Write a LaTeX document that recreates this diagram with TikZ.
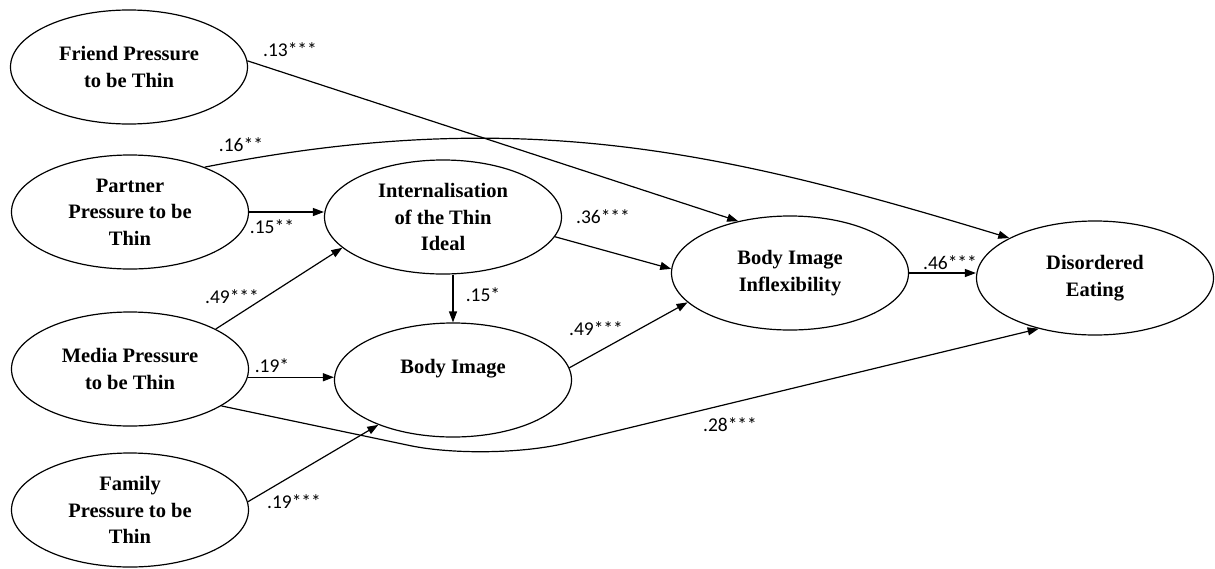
\documentclass[tikz,border=0pt]{standalone}
\usepackage{fontspec}
\setmainfont{Liberation Serif}
\newfontfamily\coeffont{Carlito}
\usetikzlibrary{shapes.geometric,arrows.meta}

\begin{document}
\begin{tikzpicture}[x=1pt,y=-1pt]
\tikzset{latent/.style = {draw, ellipse, line width=1.2pt, minimum width=237pt, minimum height=114pt, inner sep=0pt, align=center, font=\fontsize{20.5pt}{26.5pt}\selectfont\bfseries},
  path/.style = {line width=1.2pt, -{Triangle[length=11pt,width=8pt]}},
  coef/.style = {inner sep=0pt, font=\coeffont\fontsize{19.5pt}{22pt}\selectfont}}
\useasboundingbox (0,0) rectangle (1215,568);
\node[latent] (F) at (129,67) {Friend Pressure\\to be Thin};
\node[latent] (P) at (130,212) {Partner\\Pressure to be\\Thin};
\node[latent] (M) at (130,369) {Media Pressure\\to be Thin};
\node[latent] (Fam) at (130,510) {Family\\Pressure to be\\Thin};
\node[latent] (I) at (443,217) {Internalisation\\of the Thin\\Ideal};
\node[latent] (B) at (453,380) {Body Image\\~};
\node[latent] (BII) at (790,273) {Body Image\\Inflexibility};
\node[latent] (D) at (1095,278) {Disordered\\Eating};
\coordinate (dip) at (488,462);

\draw[path] (F.3) -- (BII.135);
\draw[path] (P.31) .. controls (519,105) and (720,150) .. (D.155);
\draw[path] (P.east) -- (P.east -| I.west);
\draw[path] (M.25) -- (I.197);
\draw[path] (M.-4) -- (M.-4 -| B.west);
\draw[path] (Fam.4) -- (B.211);
\draw[path, rounded corners=80pt] (M.-22) -- (dip) -- (D.222);
\draw[path] (I.-10) -- (BII.178);
\draw[path] (B.north |- I.south) -- (B.north);
\draw[path] (B.6) -- (BII.196);
\draw[path] (BII.east) -- (BII.east -| D.west);

% path coefficients
\node[coef] (c13) at (290,50) {.13***};
\node[coef] (c16) at (241,145) {.16**};
\node[coef] (c15a) at (272,227) {.15**};
\node[coef] (c49a) at (232,297) {.49***};
\node[coef] (c19a) at (272,366) {.19*};
\node[coef] (c19b) at (294,502) {.19***};
\node[coef] (c15b) at (483,295) {.15*};
\node[coef] (c36) at (603,217) {.36***};
\node[coef] (c49b) at (596,329) {.49***};
\node[coef] (c46) at (950,263) {.46***};
\node[coef] (c28) at (730,425) {.28***};
\end{tikzpicture}
\end{document}
